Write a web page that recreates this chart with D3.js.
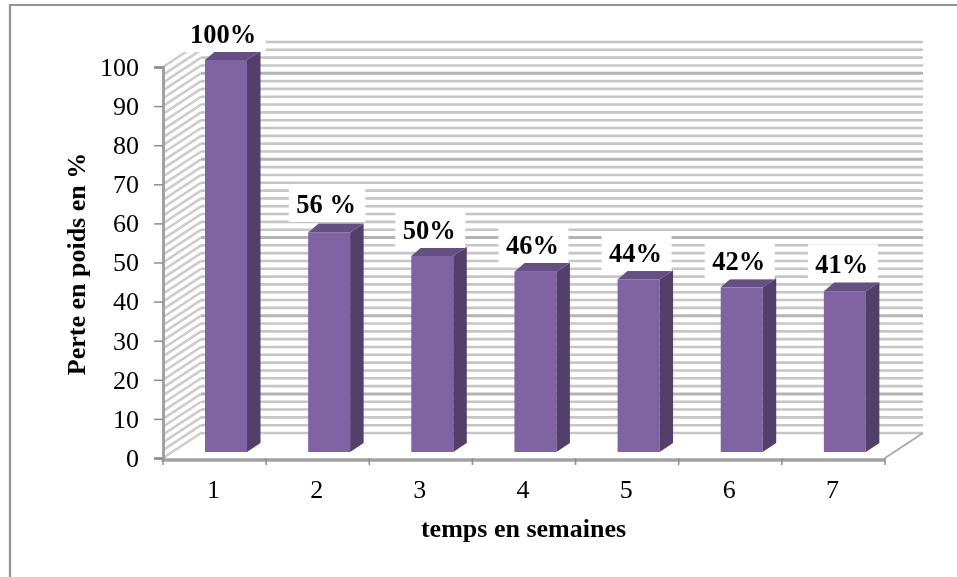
<!DOCTYPE html>
<html><head><meta charset="utf-8">
<script src="https://cdnjs.cloudflare.com/ajax/libs/d3/7.8.5/d3.min.js"></script>
<style>html,body{margin:0;padding:0;background:#fff}svg{display:block}text{font-family:"Liberation Serif",serif;fill:#000}</style>
</head><body><svg id="c" width="957" height="577"></svg>
<script>
const categories=["1","2","3","4","5","6","7"];
const values=[100,56,50,46,44,42,41];
const labels=["100%","56 %","50%","46%","44%","42%","41%"];
const yTicks=[0,10,20,30,40,50,60,70,80,90,100];
const gridTicks=d3.range(0,102,2);
const darkGrid=[92,70,50,30,10];
const labelLift=[17,19.5,17,17.7,17.5,17,18];

const svg=d3.select("#c");
const defs=svg.append("defs");
[["soft",0.7],["soft2",0.45],["soft3",0.3]].forEach(([id,s])=>{
  defs.append("filter").attr("id",id).attr("x","-5%").attr("y","-5%").attr("width","110%").attr("height","110%")
    .append("feGaussianBlur").attr("stdDeviation",s);
});

// frame
svg.append("path").attr("d","M10,577V5H957").attr("fill","none").attr("stroke","#939393").attr("stroke-width",2.2).attr("filter","url(#soft3)");

const x0=163,x1=885,y0=458,y100=67,dx=38,dy=-25;
const x=d3.scaleBand().domain(categories).range([x0,x1]);
const y=d3.scaleLinear().domain([0,100]).range([y0,y100]);

// walls
const g=svg.append("g").attr("filter","url(#soft)");
g.selectAll("line.h").data(gridTicks).join("line").attr("class","h")
  .attr("x1",x0+dx).attr("x2",x1+dx).attr("y1",d=>y(d)+dy).attr("y2",d=>y(d)+dy)
  .attr("stroke",d=>darkGrid.includes(d)?"#b4b4b4":"#c6c6c6").attr("stroke-width",d=>darkGrid.includes(d)?3:2.6);
g.selectAll("line.d").data(gridTicks).join("line").attr("class","d")
  .attr("x1",x0).attr("x2",x0+dx).attr("y1",d=>y(d)).attr("y2",d=>y(d)+dy)
  .attr("stroke","#cccccc").attr("stroke-width",2.6);
g.append("line").attr("x1",x1).attr("y1",y0).attr("x2",x1+dx).attr("y2",y0+dy).attr("stroke","#a8a8a8").attr("stroke-width",1.8);

// axes
const ax=svg.append("g").attr("filter","url(#soft3)");
const yAxis=d3.axisLeft(y).tickValues(yTicks).tickSize(9).tickFormat("");
ax.append("g").attr("transform",`translate(${x0},0)`).call(yAxis)
  .call(s=>s.select("path").attr("stroke","#a2a2a2").attr("stroke-width",3))
  .call(s=>s.selectAll("line").attr("stroke","#8c8c8c").attr("stroke-width",1.5));
ax.append("line").attr("x1",x0-1.5).attr("x2",x1).attr("y1",y0+2).attr("y2",y0+2).attr("stroke","#a2a2a2").attr("stroke-width",3.5);
const bounds=categories.map(c=>x(c)).concat([x1]);
ax.selectAll("line.t").data(bounds).join("line").attr("class","t")
  .attr("x1",d=>d).attr("x2",d=>d).attr("y1",y0).attr("y2",y0+7).attr("stroke","#8c8c8c").attr("stroke-width",1.5);

const tg=svg.append("g").attr("filter","url(#soft3)");
// tick labels
tg.append("g").selectAll("text").data(yTicks).join("text")
  .attr("x",139).attr("y",d=>y(d)).attr("dy","0.34em").attr("text-anchor","end").attr("font-size",26).text(d=>d);
tg.append("g").selectAll("text").data(categories).join("text")
  .attr("x",d=>x(d)+x.bandwidth()/2-1).attr("y",498).attr("text-anchor","middle").attr("font-size",26).text(d=>d);

// bars
const barOff=42,barW=42,botY=452,sideDx=13.5,sideDy=-9;
const h=v=>y(0)-y(v);
const scale=392/(y(0)-y(100));
const bars=svg.append("g").attr("filter","url(#soft2)").selectAll("g").data(values).join("g");
const bx=(d,i)=>x(categories[i])+barOff;
const by=d=>botY-h(d)*scale;
bars.append("rect").attr("x",bx).attr("y",by).attr("width",barW).attr("height",d=>h(d)*scale).attr("fill","#8064a2");
bars.append("path").attr("fill","#533f6a").attr("d",(d,i)=>{const a=bx(d,i)+barW,t=by(d);
  return `M${a},${t}l${sideDx},${sideDy}V${botY+sideDy}l${-sideDx},${-sideDy}Z`;});
bars.append("path").attr("fill","#664f82").attr("d",(d,i)=>{const a=bx(d,i),t=by(d);
  return `M${a},${t}l${sideDx-3},${sideDy}h${barW+3}l${-sideDx},${-sideDy}Z`;});

// data labels
const dl=svg.append("g").selectAll("g").data(values).join("g");
const dlx=(d,i)=>x(categories[i])+barOff+barW/2-3;
const dly=(d,i)=>by(d)-labelLift[i];
const rects=dl.append("rect").attr("fill","#fff").attr("height",38).attr("y",(d,i)=>dly(d,i)-29);
const dt=dl.append("text").attr("text-anchor","middle").attr("font-size",26.5).attr("font-weight","bold").attr("filter","url(#soft3)")
  .attr("x",dlx).attr("y",dly).text((d,i)=>labels[i]);
const widths=dt.nodes().map(n=>n.getComputedTextLength());
rects.attr("width",(d,i)=>widths[i]+17).attr("x",(d,i)=>dlx(d,i)+1-(widths[i]+17)/2);

// titles
tg.append("text").attr("x",523.5).attr("y",537).attr("text-anchor","middle").attr("font-size",26).attr("font-weight","bold").text("temps en semaines");
tg.append("text").attr("transform","translate(85,264) rotate(-90)").attr("text-anchor","middle").attr("font-size",26).attr("font-weight","bold").text("Perte en poids en %");
</script></body></html>
